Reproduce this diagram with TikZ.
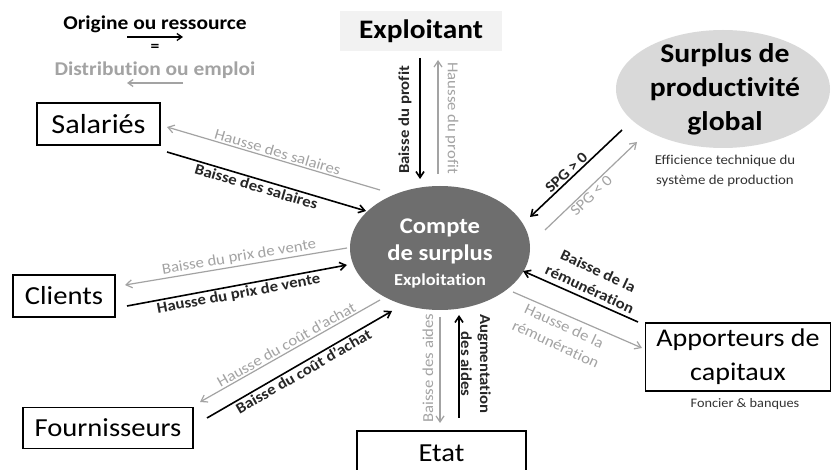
\documentclass[tikz,border=0pt]{standalone}
\usepackage{fontspec}
\setmainfont{Carlito}[FakeStretch=1.1, Ligatures=NoCommon]
\usetikzlibrary{arrows.meta,shapes.geometric}
\definecolor{lgray}{HTML}{A3A3A3}
\definecolor{dgray}{HTML}{6E6E6E}
\definecolor{egray}{HTML}{D9D9D9}
\definecolor{xgray}{HTML}{F2F2F2}
\tikzset{
  box/.style={draw=black, line width=1.8pt, inner sep=0pt, font=\fontsize{26}{28}\selectfont},
  blk/.style={draw=black, line width=1.6pt, -{Straight Barb[length=6pt,width=8pt]}},
  gry/.style={draw=lgray, line width=1.2pt, -{Straight Barb[length=6pt,width=8pt]}},
  blab/.style={font=\fontsize{15.2}{16}\selectfont\bfseries, text=black!85, inner sep=1.5pt},
  glab/.style={font=\fontsize{15.2}{16}\selectfont, text=lgray, inner sep=1.5pt},
  small/.style={font=\fontsize{13.5}{20}\selectfont, text=black!80, align=center}
}
\begin{document}
\begin{tikzpicture}[x=1pt,y=-1pt]
\useasboundingbox (0,0) rectangle (831,470);
\fill[white] (0,0) rectangle (831,470);

% legend
\node[font=\fontsize{19.5}{20}\selectfont\bfseries] (leg1) at (155,24) {Origine ou ressource};
\coordinate (la1) at (127,37); \coordinate (la2) at (183,37);
\draw[draw=black, line width=1.3pt, -{Straight Barb[length=5pt,width=7pt]}] (la1) -- (la2);
\node[font=\fontsize{16}{16}\selectfont\bfseries] (eq) at (155,48) {=};
\node[font=\fontsize{19.5}{20}\selectfont\bfseries, text=lgray] (leg2) at (155,70) {Distribution ou emploi};
\coordinate (lb1) at (183,83); \coordinate (lb2) at (127,83);
\draw[draw=lgray, line width=1.3pt, -{Straight Barb[length=5pt,width=7pt]}] (lb1) -- (lb2);

% nodes
\node[fill=xgray, minimum width=162pt, minimum height=40pt, inner sep=0pt,
      font=\fontsize{26.7}{30}\selectfont\bfseries] (exp) at (421,31) {Exploitant};
\node[ellipse, fill=egray, minimum width=214pt, minimum height=118pt, inner sep=0pt] (spg) at (723,89) {};
\node[font=\fontsize{27}{34}\selectfont\bfseries, align=center] (spgt) at (725,89) {Surplus de\\productivité\\global};
\node[small] (eff) at (725,171) {Efficience technique du\\système de production};

\node[ellipse, fill=dgray, minimum width=180pt, minimum height=124pt, inner sep=0pt] (cs) at (440,248) {};
\node[text=white, font=\fontsize{22.4}{27}\selectfont\bfseries, align=center] (cst) at (440,241) {Compte\\de surplus};
\node[text=white, font=\fontsize{16.7}{18}\selectfont\bfseries] (cse) at (440,281) {Exploitation};

\node[box, minimum width=123pt, minimum height=42pt, font=\fontsize{27.5}{28}\selectfont] (sal) at (98.5,124) {Salariés};
\node[box, minimum width=102pt, minimum height=42pt] (cli) at (64,296) {Clients};
\node[box, minimum width=170pt, minimum height=41pt] (fou) at (108,428) {Fournisseurs};
\node[box, minimum width=169pt, minimum height=50pt, anchor=north] (eta) at (441.5,430) {};
\node[font=\fontsize{26}{28}\selectfont] (etat) at (441.5,453) {Etat};
\node[box, minimum width=185pt, minimum height=68pt, align=center, font=\fontsize{25.5}{34}\selectfont] (app) at (738,357) {Apporteurs de\\capitaux};
\node[small, font=\fontsize{13}{16}\selectfont] (fon) at (745,404) {Foncier \& banques};

% Exploitant arrows
\coordinate (e1) at (420,58); \coordinate (e2) at (420,179);
\coordinate (e3) at (438,174); \coordinate (e4) at (438,60);
\draw[blk] (e1) -- (e2);
\node[blab, rotate=90] (bp) at (405,120) {Baisse du profit};
\draw[gry] (e3) -- (e4);
\node[glab, rotate=-90] (hp) at (452,118) {Hausse du profit};

% Salaries
\coordinate (s1) at (380,190); \coordinate (s2) at (167,127);
\coordinate (s3) at (167,152); \coordinate (s4) at (366,211);
\draw[gry] (s1) -- node[glab, sloped, above, pos=0.49] (hs) {Hausse des salaires} (s2);
\draw[blk] (s3) -- node[blab, sloped, below, pos=0.46] (bs) {Baisse des salaires} (s4);

% Clients
\coordinate (c1) at (347,248); \coordinate (c2) at (125,285);
\coordinate (c3) at (127,306); \coordinate (c4) at (347,265);
\draw[gry] (c1) -- node[glab, sloped, above, pos=0.48] (bpv) {Baisse du prix de vente} (c2);
\draw[blk] (c3) -- node[blab, sloped, below, pos=0.5] (hpv) {Hausse du prix de vente} (c4);

% Fournisseurs
\coordinate (f1) at (380,300); \coordinate (f2) at (200,402);
\coordinate (f3) at (207,418); \coordinate (f4) at (392,311);
\draw[gry] (f1) -- node[glab, sloped, above, pos=0.5] (hca) {Hausse du coût d'achat} (f2);
\draw[blk] (f3) -- node[blab, sloped, below, pos=0.5] (bca) {Baisse du coût d'achat} (f4);

% Etat
\coordinate (t1) at (440,317); \coordinate (t2) at (440,423);
\coordinate (t3) at (459,418); \coordinate (t4) at (459,315);
\draw[gry] (t1) -- (t2);
\node[glab, rotate=90] (bda) at (428,368) {Baisse des aides};
\draw[blk] (t3) -- (t4);
\node[blab, rotate=-90, align=center, font=\fontsize{15.2}{19}\selectfont\bfseries] (ada) at (476,364) {Augmentation\\des aides};

% Apporteurs
\coordinate (a1) at (638,322); \coordinate (a2) at (523,271);
\coordinate (a3) at (513,292); \coordinate (a4) at (642,348);
\draw[blk] (a1) -- (a2);
\node[blab, rotate=-25, align=center, font=\fontsize{15.2}{20}\selectfont\bfseries] (br) at (594,280) {Baisse de la\\rémunération};
\draw[gry] (a3) -- (a4);
\node[glab, rotate=-25, align=center, font=\fontsize{15.2}{20}\selectfont] (hr) at (560,335) {Hausse de la\\rémunération};

% SPG
\coordinate (p1) at (622,130); \coordinate (p2) at (530,217);
\coordinate (p3) at (545,230); \coordinate (p4) at (637,142);
\draw[blk] (p1) -- node[blab, sloped, above, pos=0.55] (sp) {SPG > 0} (p2);
\draw[gry] (p3) -- node[glab, sloped, below, pos=0.45] (sn) {SPG < 0} (p4);
\end{tikzpicture}
\end{document}
